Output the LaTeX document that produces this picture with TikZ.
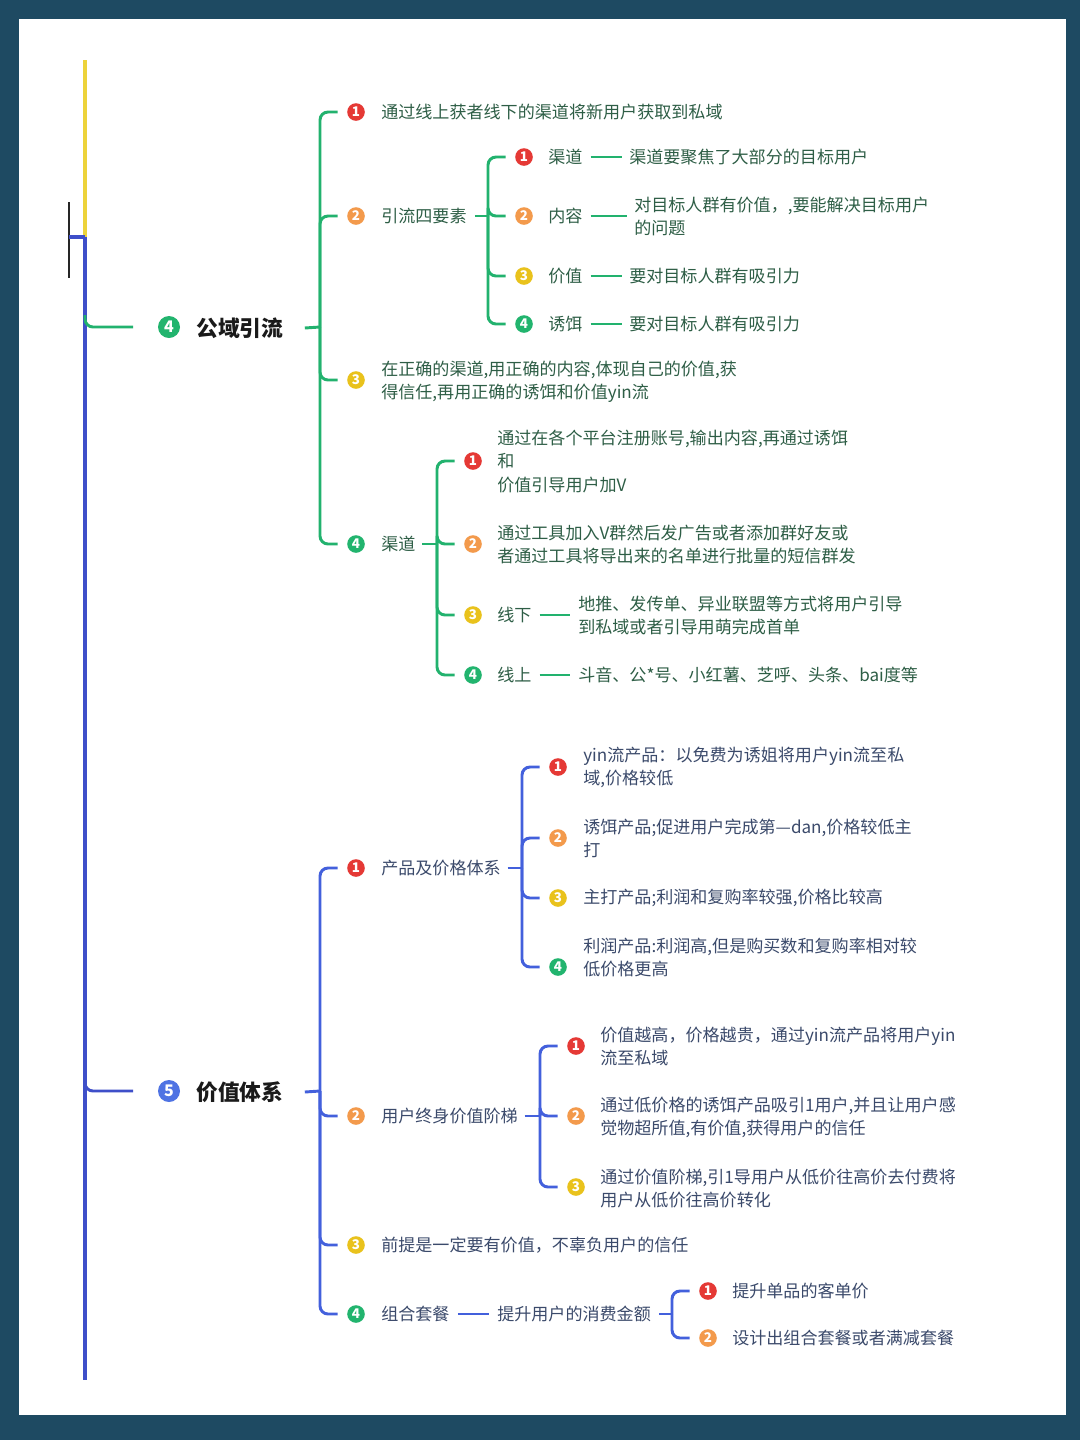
\documentclass[tikz,border=0pt]{standalone}
\usepackage{fontspec}
\setmainfont{Noto Sans CJK SC}
\definecolor{bgteal}{HTML}{1E4A62}
\definecolor{lgreen}{HTML}{22B26E}
\definecolor{lblue}{HTML}{4360DC}
\definecolor{lmain}{HTML}{3E4FC9}
\definecolor{lyellow}{HTML}{EDD33A}
\definecolor{cR}{HTML}{E53935}
\definecolor{cO}{HTML}{F39A4C}
\definecolor{cY}{HTML}{E9C21C}
\definecolor{cG}{HTML}{22B46E}
\definecolor{cB}{HTML}{4F73E3}
\definecolor{tgreen}{HTML}{2E5E46}
\definecolor{tblue}{HTML}{3B4A6B}
\definecolor{ttitle}{HTML}{1A1A1A}
\tikzset{
  badge/.style={circle,fill=#1,text=white,inner sep=0pt,minimum size=13.2pt,font=\bfseries\fontsize{10}{10}\selectfont},
  bigbadge/.style={circle,fill=#1,text=white,inner sep=0pt,minimum size=16.5pt,font=\bfseries\fontsize{12}{12}\selectfont},
  gt/.style={anchor=west,inner sep=0pt,text=tgreen,align=left,font=\fontsize{12.8}{17.3}\selectfont},
  bt/.style={anchor=west,inner sep=0pt,text=tblue,align=left,font=\fontsize{12.8}{17.3}\selectfont},
  tt/.style={anchor=west,inner sep=0pt,text=ttitle,font=\bfseries\fontsize{16.3}{18}\selectfont},
  gline/.style={draw=lgreen,line width=2.2pt,rounded corners=6pt},
  bline/.style={draw=lblue,line width=2.2pt,rounded corners=6pt},
}
\begin{document}
\begin{tikzpicture}[x=0.75pt,y=-0.75pt]
\useasboundingbox (0,0) rectangle (1080,1440);
\fill[bgteal] (0,0) rectangle (1080,1440);
\fill[white] (19,19) rectangle (1066,1415);

% main spine
\coordinate (mTop) at (85,60);
\coordinate (mJoin) at (85,237);
\coordinate (mBot) at (85,1380);
\coordinate (kTop) at (69,202);
\coordinate (kBot) at (69,278);
\coordinate (kMid) at (69,237);
\draw[lyellow,line width=2.4pt] (mTop) -- (mJoin);
\draw[lmain,line width=2.4pt] (mJoin) -- (mBot);
\draw[black!85,line width=1.2pt] (kTop) -- (kBot);
\draw[lmain,line width=2.4pt] (kMid) -- (mJoin);

% ================= green section =================
\node[bigbadge=cG] (T4b) at (169,327) {4};
\node[tt] (T4t) at (196,328) {公域引流};
\coordinate (T4s) at (85,315);
\draw[gline] (T4s) |- ([xshift=-18.5pt]T4b.west);
\coordinate (gb0) at (320,327);
\draw[gline] ([xshift=16pt]T4t.east) -- (gb0);

\node[badge=cR] (g1b) at (356,112) {1};
\node[gt] (g1t) at (381,112) {通过线上获者线下的渠道将新用户获取到私域};
\node[badge=cO] (g2b) at (356,216) {2};
\node[gt] (g2t) at (381,216) {引流四要素};
\node[badge=cY] (g3b) at (356,380) {3};
\node[gt] (g3t) at (381,381.5) {在正确的渠道,用正确的内容,体现自己的价值,获\\得信任,再用正确的诱饵和价值yin流};
\node[badge=cG] (g4b) at (356,544) {4};
\node[gt] (g4t) at (381,544) {渠道};
\foreach \c in {g1b,g2b,g3b,g4b} \draw[gline] (gb0) |- ([xshift=-7pt]\c.west);

% 引流四要素 children
\coordinate (gb2) at (488,216);
\draw[gline] ([xshift=6pt]g2t.east) -- (gb2);
\node[badge=cR] (g21b) at (524,157) {1};
\node[gt] (g21t) at (548,157) {渠道};
\node[gt] (g21d) at (629,157) {渠道要聚焦了大部分的目标用户};
\node[badge=cO] (g22b) at (524,216) {2};
\node[gt] (g22t) at (548,216) {内容};
\node[gt] (g22d) at (634,216.5) {对目标人群有价值，,要能解决目标用户\\的问题};
\node[badge=cY] (g23b) at (524,276) {3};
\node[gt] (g23t) at (548,276) {价值};
\node[gt] (g23d) at (629,276) {要对目标人群有吸引力};
\node[badge=cG] (g24b) at (524,324) {4};
\node[gt] (g24t) at (548,324) {诱饵};
\node[gt] (g24d) at (629,324) {要对目标人群有吸引力};
\foreach \c in {g21b,g22b,g23b,g24b} \draw[gline] (gb2) |- ([xshift=-7pt]\c.west);
\foreach \a/\b in {g21t/g21d,g22t/g22d,g23t/g23d,g24t/g24d}
  \draw[gline] ([xshift=6pt]\a.east) -- ([xshift=-5pt]\a.east -| \b.west);

% 渠道 children
\coordinate (gb4) at (437,544);
\draw[gline] ([xshift=5pt]g4t.east) -- (gb4);
\node[badge=cR] (g41b) at (473,461) {1};
\node[gt] (g41t) at (497,461.5) {通过在各个平台注册账号,输出内容,再通过诱饵\\和\\价值引导用户加V};
\node[badge=cO] (g42b) at (473,544) {2};
\node[gt] (g42t) at (497,544.5) {通过工具加入V群然后发广告或者添加群好友或\\者通过工具将导出来的名单进行批量的短信群发};
\node[badge=cY] (g43b) at (473,615) {3};
\node[gt] (g43t) at (497,615) {线下};
\node[gt] (g43d) at (578,615.5) {地推、发传单、异业联盟等方式将用户引导\\到私域或者引导用萌完成首单};
\node[badge=cG] (g44b) at (473,675) {4};
\node[gt] (g44t) at (497,675) {线上};
\node[gt] (g44d) at (578,675) {斗音、公*号、小红薯、芝呼、头条、bai度等};
\foreach \c in {g41b,g42b,g43b,g44b} \draw[gline] (gb4) |- ([xshift=-7pt]\c.west);
\foreach \a/\b in {g43t/g43d,g44t/g44d}
  \draw[gline] ([xshift=6pt]\a.east) -- ([xshift=-6pt]\a.east -| \b.west);

% ================= blue section =================
\node[bigbadge=cB] (T5b) at (169,1091) {5};
\node[tt] (T5t) at (196,1092) {价值体系};
\coordinate (T5s) at (85,1079);
\draw[bline,draw=lmain] (T5s) |- ([xshift=-18.5pt]T5b.west);
\coordinate (bb0) at (320,1091);
\draw[bline] ([xshift=16pt]T5t.east) -- (bb0);

\node[badge=cR] (b1b) at (356,868) {1};
\node[bt] (b1t) at (381,868) {产品及价格体系};
\node[badge=cO] (b2b) at (356,1116) {2};
\node[bt] (b2t) at (381,1116) {用户终身价值阶梯};
\node[badge=cY] (b3b) at (356,1245) {3};
\node[bt] (b3t) at (381,1245) {前提是一定要有价值，不辜负用户的信任};
\node[badge=cG] (b4b) at (356,1314) {4};
\node[bt] (b4t) at (381,1314) {组合套餐};
\foreach \c in {b1b,b2b,b3b,b4b} \draw[bline] (bb0) |- ([xshift=-7pt]\c.west);

% 产品及价格体系 children
\coordinate (bb1) at (522,868);
\draw[bline] ([xshift=5pt]b1t.east) -- (bb1);
\node[badge=cR] (b11b) at (558,767) {1};
\node[bt] (b11t) at (583,767.5) {yin流产品：以免费为诱姐将用户yin流至私\\域,价格较低};
\node[badge=cO] (b12b) at (558,838) {2};
\node[bt] (b12t) at (583,838.5) {诱饵产品;促进用户完成第—dan,价格较低主\\打};
\node[badge=cY] (b13b) at (558,898) {3};
\node[bt] (b13t) at (583,898) {主打产品;利润和复购率较强,价格比较高};
\node[badge=cG] (b14b) at (558,967) {4};
\node[bt] (b14t) at (583,957.5) {利润产品:利润高,但是购买数和复购率相对较\\低价格更高};
\foreach \c in {b11b,b12b,b13b,b14b} \draw[bline] (bb1) |- ([xshift=-7pt]\c.west);

% 用户终身价值阶梯 children
\coordinate (bb2) at (540,1116);
\draw[bline] ([xshift=5pt]b2t.east) -- (bb2);
\node[badge=cR] (b21b) at (576,1046) {1};
\node[bt] (b21t) at (600,1046.5) {价值越高，价格越贵，通过yin流产品将用户yin\\流至私域};
\node[badge=cO] (b22b) at (576,1116) {2};
\node[bt] (b22t) at (600,1117.5) {通过低价格的诱饵产品吸引1用户,并且让用户感\\觉物超所值,有价值,获得用户的信任};
\node[badge=cY] (b23b) at (576,1187) {3};
\node[bt] (b23t) at (600,1188.5) {通过价值阶梯,引1导用户从低价往高价去付费将\\用户从低价往高价转化};
\foreach \c in {b21b,b22b,b23b} \draw[bline] (bb2) |- ([xshift=-7pt]\c.west);

% 组合套餐 children
\node[bt] (b4d) at (497,1314) {提升用户的消费金额};
\draw[bline] ([xshift=6pt]b4t.east) -- ([xshift=-6pt]b4t.east -| b4d.west);
\coordinate (bb4) at (672,1314);
\draw[bline] ([xshift=6pt]b4d.east) -- (bb4);
\node[badge=cR] (b41b) at (708,1291) {1};
\node[bt] (b41t) at (732,1291) {提升单品的客单价};
\node[badge=cO] (b42b) at (708,1338) {2};
\node[bt] (b42t) at (732,1338) {设计出组合套餐或者满减套餐};
\foreach \c in {b41b,b42b} \draw[bline] (bb4) |- ([xshift=-7pt]\c.west);
\end{tikzpicture}
\end{document}
